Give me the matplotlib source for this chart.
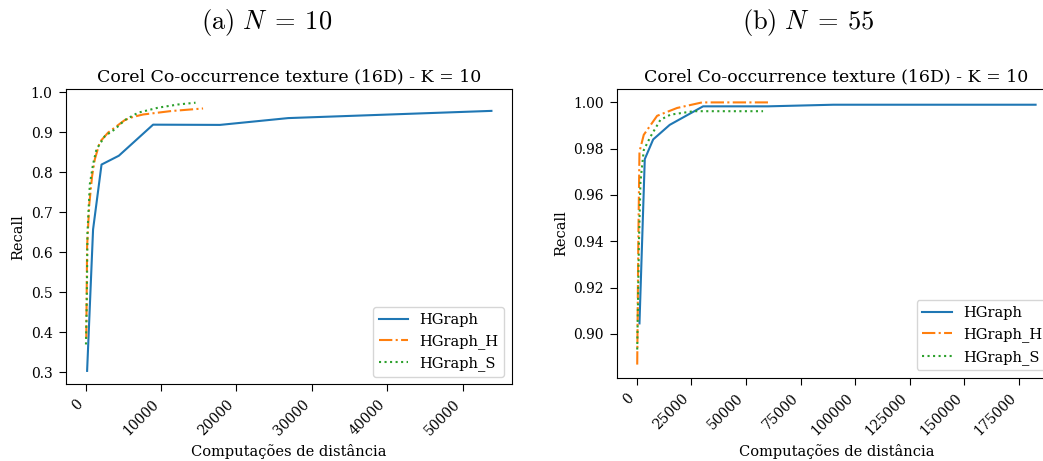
import matplotlib
matplotlib.use("Agg")
import matplotlib.pyplot as plt

plt.rcParams['font.family'] = ['DejaVu Serif']
plt.rcParams['mathtext.fontset'] = 'cm'

# ---- N = 10 ----
hg10_x = [210, 1000, 2120, 4410, 8950, 17800, 26840, 53770]
hg10_y = [0.304, 0.657, 0.819, 0.841, 0.9186, 0.918, 0.935, 0.953]
hgh10_x = [100, 210, 500, 870, 1230, 1900, 3000, 5200, 6300, 7630, 11390, 15570]
hgh10_y = [0.385, 0.615, 0.72, 0.79, 0.832, 0.8755, 0.899, 0.930, 0.938, 0.944, 0.9527, 0.959]
hgs10_x = [60, 170, 260, 570, 1000, 1450, 2560, 3880, 5200, 6970, 9620, 12270, 14570]
hgs10_y = [0.37, 0.483, 0.649, 0.77, 0.82, 0.857, 0.89, 0.907, 0.93, 0.9485, 0.961, 0.969, 0.9734]

# ---- N = 55 ----
hg55_x = [1230, 3660, 7500, 15080, 30350, 60000, 90000, 182540]
hg55_y = [0.9045, 0.9755, 0.984, 0.9903, 0.9983, 0.9983, 0.999, 0.999]
hgh55_x = [200, 700, 1230, 3200, 9300, 18460, 29900, 60050]
hgh55_y = [0.8867, 0.94, 0.9787, 0.986, 0.9942, 0.9976, 1.0, 1.0]
hgs55_x = [200, 1000, 1690, 2300, 3200, 6260, 10830, 15400, 26050, 57800]
hgs55_y = [0.8932, 0.94, 0.9656, 0.9715, 0.9794, 0.9852, 0.9925, 0.9947, 0.9962, 0.9962]

labels = ['HGraph', 'HGraph_H', 'HGraph_S']
title = 'Corel Co-occurrence texture (16D) - K = 10'
xlabel = 'Computações de distância'
ylabel = 'Recall'
captions = [r'$\mathrm{(a)}\ N\;=\:10$', r'$\mathrm{(b)}\ N\;=\:55$']

W, H = 1043, 461
fig = plt.figure(figsize=(W / 100, H / 100), dpi=100)

ax1 = fig.add_axes([65.7 / W, 1 - 384.3 / H, (511.7 - 65.7) / W, (384.3 - 89.3) / H])
ax2 = fig.add_axes([617.3 / W, 1 - 377.7 / H, (1055.5 - 617.3) / W, (377.7 - 89.3) / H])

for ax, data in [(ax1, [(hg10_x, hg10_y), (hgh10_x, hgh10_y), (hgs10_x, hgs10_y)]),
                 (ax2, [(hg55_x, hg55_y), (hgh55_x, hgh55_y), (hgs55_x, hgs55_y)])]:
    styles = ['-', '-.', ':']
    for (x, y), ls, lab, c in zip(data, styles, labels, ['C0', 'C1', 'C2']):
        ax.plot(x, y, ls, color=c, label=lab, lw=1.5)
    ax.set_title(title, fontsize=12.5)
    ax.set_xlabel(xlabel, fontsize=10.5)
    ax.set_ylabel(ylabel, fontsize=10.5)
    ax.tick_params(labelsize=10, length=5, pad=4.5)
    ax.legend(loc='lower right', fontsize=10.5)

ax1.set_yticks([0.3, 0.4, 0.5, 0.6, 0.7, 0.8, 0.9, 1.0])
ax1.set_xticks([0, 10000, 20000, 30000, 40000, 50000])
for ax in (ax1, ax2):
    for t in ax.get_xticklabels():
        t.set_rotation(45)
        t.set_ha('right')

fig.text(267 / W, 1 - 22 / H, captions[0], fontsize=19, ha='center', va='center')
fig.text(808 / W, 1 - 22 / H, captions[1], fontsize=19, ha='center', va='center')

fig.savefig('out.png', dpi=100)
